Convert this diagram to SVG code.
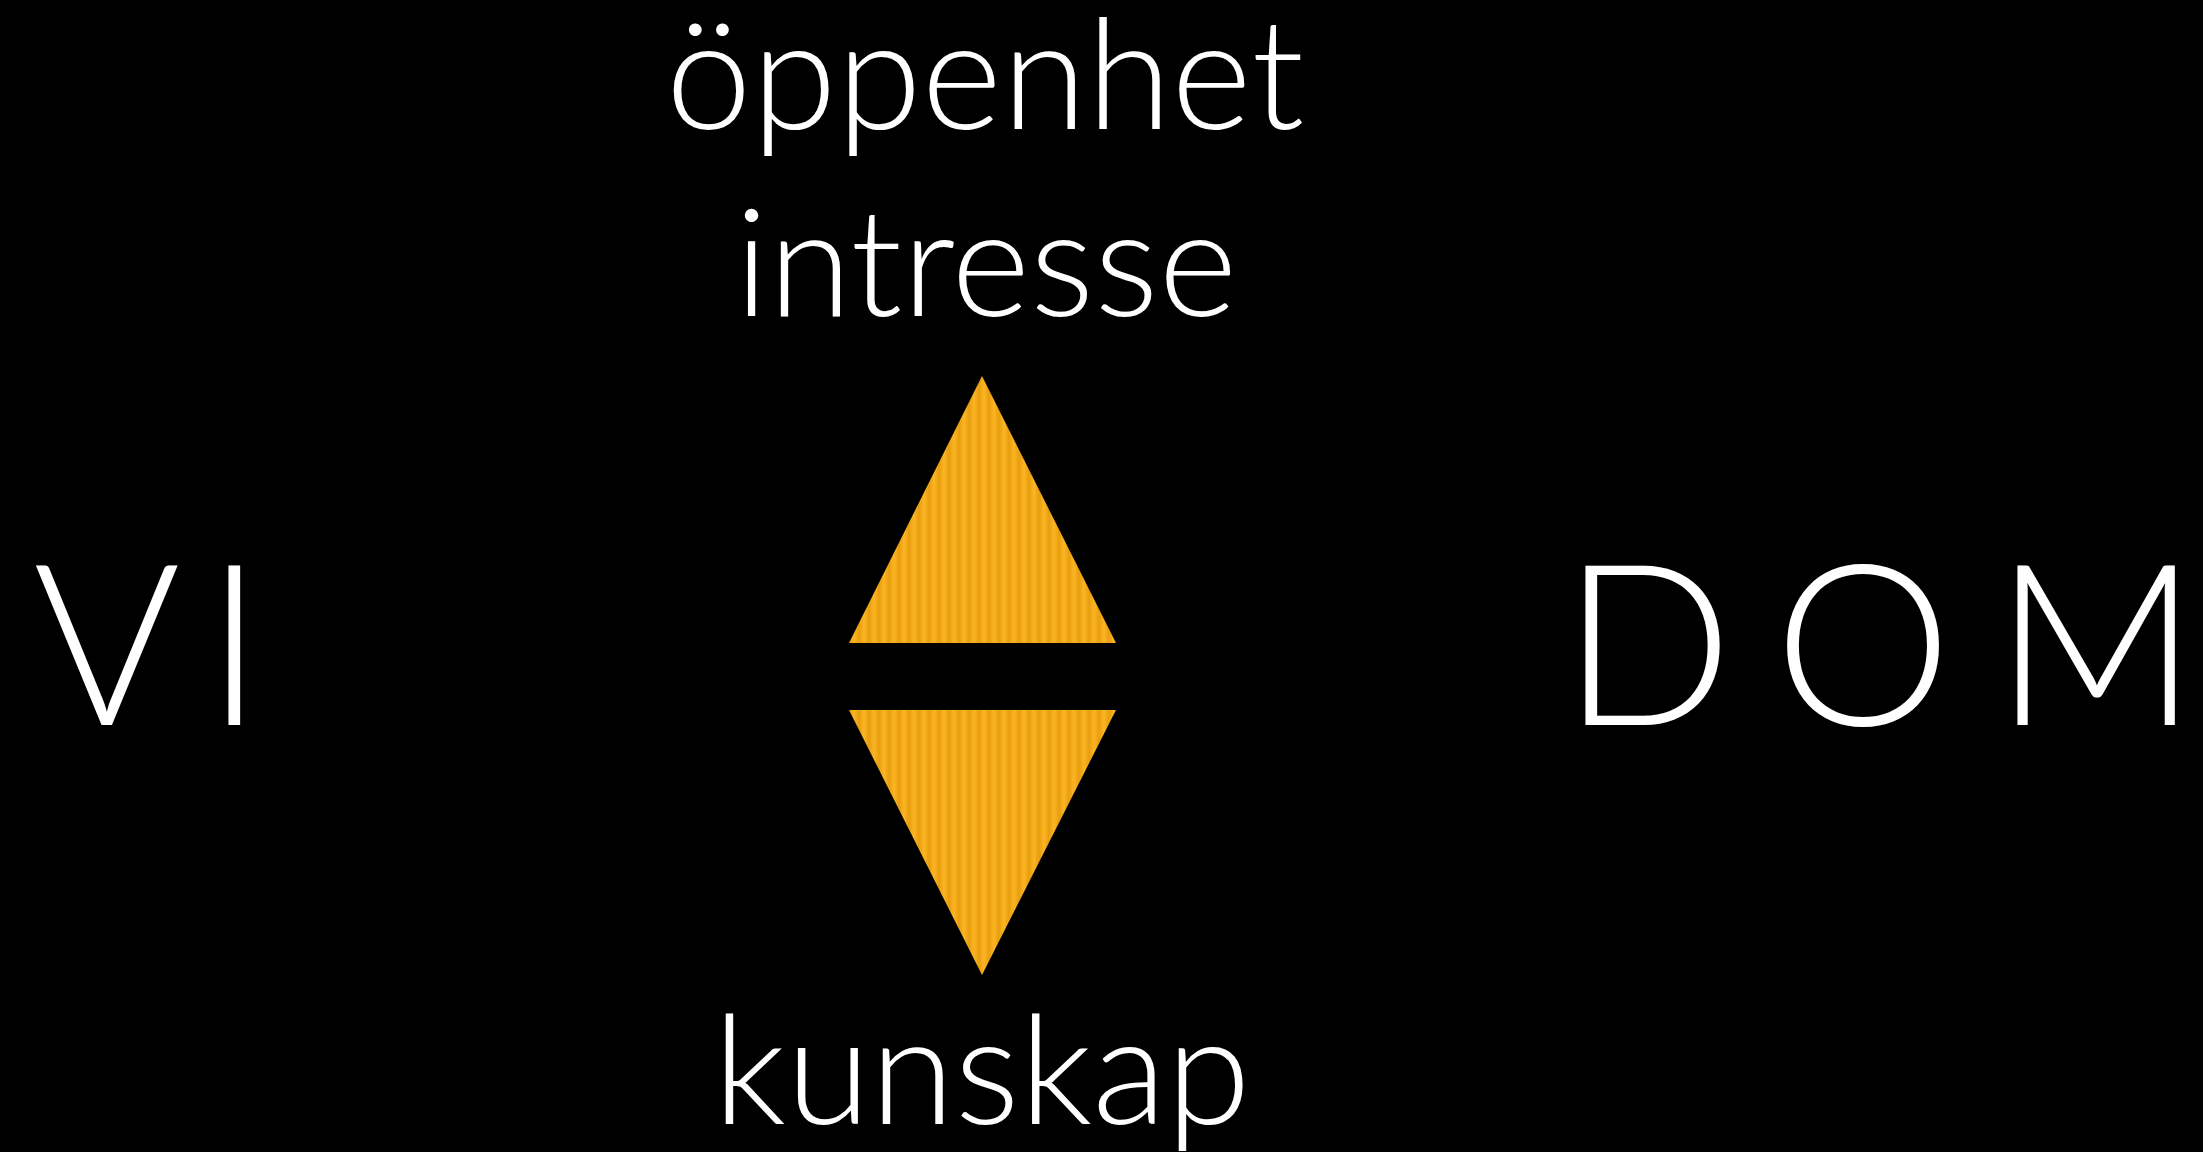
<svg xmlns="http://www.w3.org/2000/svg" width="2203" height="1152" viewBox="0 0 2203 1152">
  <style>
    .lbl { font-family: "Lato", "Open Sans", "Liberation Sans", sans-serif; font-weight: 300; fill: #ffffff; }
    .small { font-size: 151px; text-anchor: middle; }
    .big { font-size: 225px; }
    .tri { fill: url(#stripes); }
  </style>
  <defs>
    <linearGradient id="stripeGrad" x1="0" y1="0" x2="1" y2="0">
      <stop offset="0" stop-color="#E89E0E"/>
      <stop offset="0.5" stop-color="#FCB524"/>
      <stop offset="1" stop-color="#E89E0E"/>
    </linearGradient>
    <pattern id="stripes" patternUnits="userSpaceOnUse" x="849" y="0" width="10" height="20">
      <rect x="0" y="0" width="10" height="20" fill="url(#stripeGrad)"/>
    </pattern>
  </defs>
  <rect x="0" y="0" width="2203" height="1152" fill="#000000"/>
  <g id="node-oppenhet"><text class="lbl small" x="985" y="129" style="font-size:154px">öppenhet</text></g>
  <g id="node-intresse"><text class="lbl small" x="986" y="316">intresse</text></g>
  <g id="node-up-triangle"><polygon class="tri" points="982,376 1116,643 849,643"/></g>
  <g id="node-down-triangle"><polygon class="tri" points="849,710 1116,710 982,975"/></g>
  <g id="node-kunskap"><text class="lbl small" x="982" y="1124" style="font-size:153px">kunskap</text></g>
  <g id="node-vi"><text class="lbl big" x="33 205" y="725">VI</text></g>
  <g id="node-dom"><text class="lbl big" x="1562 1774 1994" y="725">DOM</text></g>
  <g id="connectors"></g>
</svg>
